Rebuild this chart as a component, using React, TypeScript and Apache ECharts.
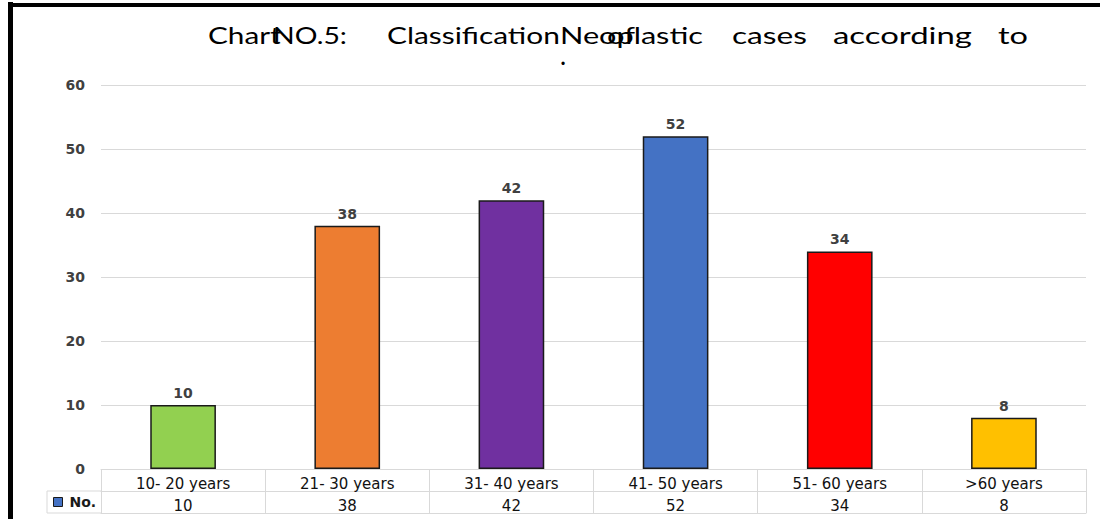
import React, { useEffect, useRef } from "react";
import * as echarts from "echarts";

const categories = ["10- 20 years", "21- 30 years", "31- 40 years", "41- 50 years", "51- 60 years", ">60 years"];
const values = [10, 38, 42, 52, 34, 8];
const barColors = ["#92D050", "#ED7D31", "#7030A0", "#4472C4", "#FF0000", "#FFC000"];
const seriesName = "No.";
const yTicks = { min: 0, max: 60, interval: 10 };
// title words as they are laid out (overlapping) in the reference: text, left edge, width of the fit text
const titlePieces = [
  { text: "Chart", fit: "Char", x: 208, w: 62 },
  { text: "NO.5:", fit: "NO.5:", x: 273, w: 74 },
  { text: "Classification", fit: "Classification", x: 387, w: 173 },
  { text: "Neoplastic", fit: "Neoplastic", x: 560, w: 143 },
  { text: "of", fit: "of", x: 607, w: 28 },
  { text: "cases", fit: "cases", x: 732, w: 75 },
  { text: "according", fit: "according", x: 833, w: 139 },
  { text: "to", fit: "to", x: 998, w: 30 },
];

const GRID = "#D9D9D9";
const TXT = "#404040";
const FONT = "'DejaVu Sans', Verdana, sans-serif";
const TITLE_FONT = "Lato, 'Open Sans', sans-serif";
const TITLE_SIZE = 24;

function measure(text: string): number {
  const c = document.createElement("canvas").getContext("2d")!;
  c.font = `${TITLE_SIZE}px ${TITLE_FONT}`;
  return c.measureText(text).width;
}

export default function App() {
  const ref = useRef<HTMLDivElement>(null);
  useEffect(() => {
    const chart = echarts.init(ref.current!, null, { renderer: "svg" });
    chart.setOption({
      animation: false,
      backgroundColor: "#fff",
      grid: { left: 101, right: 14, top: 85, bottom: 50 },
      legend: {
        show: true,
        left: 53,
        top: 495,
        padding: 0,
        itemWidth: 9,
        itemHeight: 9,
        icon: "rect",
        itemGap: 4,
        textStyle: { fontFamily: FONT, fontSize: 14, fontWeight: "bold", color: "#1a1a1a", padding: [1, 0, 0, 2] },
        data: [{ name: seriesName, itemStyle: { color: "#4472C4", borderColor: "#1a1a1a", borderWidth: 1 } }],
      },
      xAxis: [
        {
          type: "category",
          data: categories,
          position: "bottom",
          axisLine: { show: true, lineStyle: { color: GRID, width: 1 } },
          axisTick: { show: true, length: 44, interval: 0, lineStyle: { color: GRID } },
          axisLabel: { interval: 0, margin: 7, fontFamily: FONT, fontSize: 15, color: "#111" },
        },
        {
          type: "category",
          data: categories,
          position: "bottom",
          offset: 22,
          axisLine: { show: true, lineStyle: { color: GRID, width: 1 } },
          axisTick: { show: false },
          axisLabel: {
            interval: 0,
            margin: 7,
            fontFamily: FONT,
            fontSize: 15,
            color: "#111",
            formatter: (_v: string, i: number) => String(values[i]),
          },
        },
        {
          type: "category",
          data: categories,
          position: "bottom",
          offset: 44,
          axisLine: { show: true, lineStyle: { color: GRID, width: 1 } },
          axisTick: { show: false },
          axisLabel: { show: false },
        },
      ],
      yAxis: {
        type: "value",
        min: yTicks.min,
        max: yTicks.max,
        interval: yTicks.interval,
        axisLine: { show: false },
        axisTick: { show: false },
        splitLine: { lineStyle: { color: GRID, width: 1 } },
        axisLabel: { margin: 16, fontFamily: FONT, fontSize: 14, fontWeight: "bold", color: TXT },
      },
      series: [
        {
          name: seriesName,
          type: "bar",
          xAxisIndex: 0,
          barWidth: "40%",
          itemStyle: { color: "#4472C4" },
          data: values.map((v, i) => ({
            value: v,
            itemStyle: { color: barColors[i], borderColor: "#1a1a1a", borderWidth: 1.5 },
          })),
          label: {
            show: true,
            position: "top",
            distance: 5,
            fontFamily: FONT,
            fontSize: 14,
            fontWeight: "bold",
            color: TXT,
          },
        },
      ],
      graphic: [
        { type: "rect", left: 8, top: 2, shape: { width: 5, height: 517 }, style: { fill: "#000" } },
        { type: "rect", left: 8, top: 3, shape: { width: 1092, height: 4 }, style: { fill: "#000" } },
        { type: "line", shape: { x1: 47, y1: 491, x2: 101, y2: 491 }, style: { stroke: GRID, lineWidth: 1 } },
        { type: "line", shape: { x1: 47, y1: 513, x2: 101, y2: 513 }, style: { stroke: GRID, lineWidth: 1 } },
        { type: "line", shape: { x1: 47, y1: 491, x2: 47, y2: 513 }, style: { stroke: GRID, lineWidth: 1 } },
        ...titlePieces.map((p) => ({
          type: "text",
          x: p.x,
          y: 47,
          scaleX: p.w / measure(p.fit),
          style: {
            text: p.text,
            fontFamily: TITLE_FONT,
            fontSize: TITLE_SIZE,
            fill: "#000",
            verticalAlign: "bottom",
          },
        })),
        {
          type: "text",
          x: 560,
          y: 68,
          style: { text: ".", fontFamily: TITLE_FONT, fontSize: 26, fill: "#000", verticalAlign: "bottom" },
        },
      ],
    });
    return () => chart.dispose();
  }, []);
  return (
    <div
      ref={ref}
      style={{ position: "fixed", left: 0, top: 0, width: 1100, height: 519 }}
    />
  );
}
